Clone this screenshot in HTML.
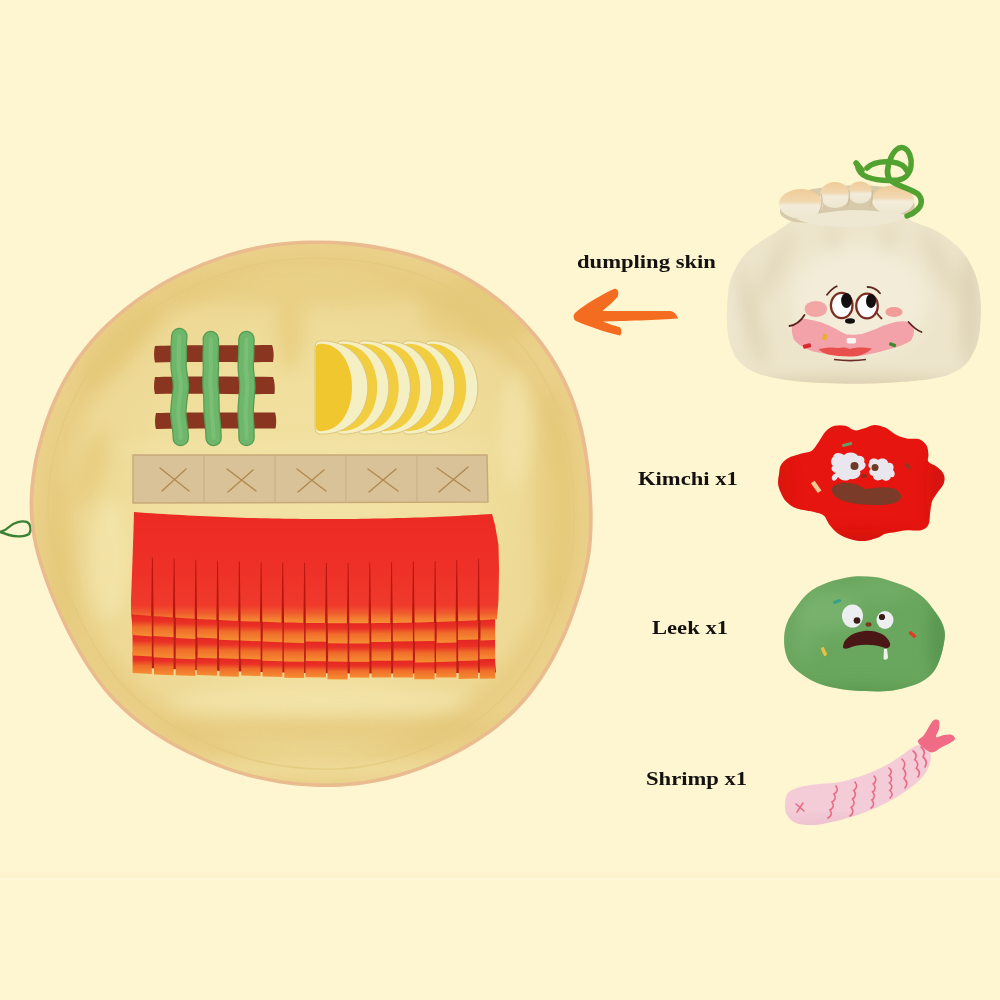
<!DOCTYPE html>
<html><head><meta charset="utf-8">
<style>
html,body{margin:0;padding:0;background:#FEF5D1;}
body{width:1000px;height:1000px;overflow:hidden;position:relative;font-family:"Liberation Serif",serif;}
svg{position:absolute;left:0;top:0;}
.lbl{position:absolute;transform-origin:0 0;transform:scaleX(1.19);font-family:"Liberation Serif",serif;font-weight:bold;color:#141210;white-space:nowrap;line-height:1;}
</style></head>
<body>
<svg width="1000" height="1000" viewBox="0 0 1000 1000">
<defs>
  <radialGradient id="matg" cx="0.5" cy="0.5" r="0.5">
    <stop offset="0" stop-color="#F2E2A2"/>
    <stop offset="0.6" stop-color="#F0DE9C"/>
    <stop offset="0.85" stop-color="#EDD894"/>
    <stop offset="0.93" stop-color="#E8CE84"/>
    <stop offset="1" stop-color="#EAD088"/>
  </radialGradient>
  <clipPath id="matclip"><path d="M301.5 244.3 C316.5 243.6 332.1 243.9 347.8 245.4 C363.5 246.8 380.2 249.3 395.6 252.9 C411.0 256.6 426.5 261.6 440.1 267.3 C453.8 273.0 466.1 279.9 477.5 287.2 C489.0 294.5 499.2 302.7 508.6 311.0 C518.0 319.4 526.5 328.1 534.1 337.3 C541.6 346.5 548.1 356.0 554.0 366.0 C559.8 375.9 564.8 386.3 569.1 397.0 C573.3 407.7 576.6 418.8 579.4 430.4 C582.2 442.1 584.2 454.3 585.8 467.0 C587.4 479.8 588.5 494.1 588.8 506.8 C589.2 519.5 588.9 532.4 588.0 543.1 C587.1 553.9 585.5 561.6 583.4 571.2 C581.2 580.8 578.5 589.9 574.9 600.6 C571.4 611.2 567.1 623.6 562.0 634.9 C556.9 646.2 551.1 657.8 544.6 668.5 C538.0 679.1 530.8 689.4 522.6 698.8 C514.4 708.2 505.1 716.9 495.4 724.7 C485.7 732.4 474.9 739.4 464.4 745.5 C453.9 751.6 442.9 756.8 432.3 761.3 C421.8 765.8 411.4 769.5 401.0 772.6 C390.7 775.6 380.4 778.0 370.2 779.8 C360.0 781.5 349.9 782.6 339.9 783.1 C329.8 783.7 320.0 783.5 310.0 783.0 C300.1 782.5 290.1 781.4 280.2 779.9 C270.2 778.3 260.3 776.4 250.3 773.8 C240.4 771.2 230.4 768.0 220.5 764.2 C210.5 760.4 200.5 756.0 190.6 751.2 C180.8 746.3 170.6 740.8 161.3 734.9 C151.9 729.0 142.6 722.5 134.4 715.7 C126.2 709.0 118.8 701.8 112.0 694.3 C105.2 686.8 99.4 679.1 93.6 670.7 C87.8 662.3 82.5 653.4 77.2 643.8 C71.9 634.2 66.6 623.7 61.8 613.0 C56.9 602.3 52.1 590.6 48.1 579.4 C44.1 568.3 40.5 556.8 38.0 546.1 C35.6 535.3 34.2 525.1 33.5 515.0 C32.9 504.8 33.3 495.7 34.3 485.1 C35.3 474.6 36.8 463.9 39.8 451.6 C42.8 439.3 46.8 424.8 52.3 411.3 C57.8 397.7 64.7 383.0 72.7 370.2 C80.8 357.4 90.3 345.4 100.6 334.4 C110.9 323.5 122.6 313.6 134.7 304.6 C146.7 295.6 159.6 287.5 173.0 280.3 C186.3 273.2 200.8 266.8 215.0 261.7 C229.2 256.5 243.6 252.4 258.0 249.5 C272.4 246.6 286.6 245.0 301.5 244.3 Z"/></clipPath>
  <clipPath id="bagclip"><path d="M808.0 210.0 C818.5 207.8 839.7 207.7 855.0 208.0 C870.3 208.3 890.5 209.8 900.0 212.0 C909.5 214.2 907.0 218.3 912.0 221.0 C917.0 223.7 924.3 225.3 930.0 228.0 C935.7 230.7 941.0 233.5 946.0 237.0 C951.0 240.5 956.0 244.7 960.0 249.0 C964.0 253.3 967.2 257.8 970.0 263.0 C972.8 268.2 975.2 273.8 977.0 280.0 C978.8 286.2 979.9 293.0 980.5 300.0 C981.1 307.0 981.1 314.7 980.5 322.0 C979.9 329.3 979.4 337.0 977.0 344.0 C974.6 351.0 970.5 359.0 966.0 364.0 C961.5 369.0 956.0 371.5 950.0 374.0 C944.0 376.5 938.3 377.7 930.0 379.0 C921.7 380.3 910.0 381.2 900.0 382.0 C890.0 382.8 880.0 383.2 870.0 383.5 C860.0 383.8 850.8 383.8 840.0 383.5 C829.2 383.2 815.8 382.9 805.0 382.0 C794.2 381.1 783.8 379.8 775.0 378.0 C766.2 376.2 758.3 374.2 752.0 371.0 C745.7 367.8 740.8 363.8 737.0 359.0 C733.2 354.2 731.2 348.2 729.5 342.0 C727.8 335.8 727.3 329.0 727.0 322.0 C726.7 315.0 727.0 306.7 727.5 300.0 C728.0 293.3 728.4 287.7 730.0 282.0 C731.6 276.3 734.3 270.8 737.0 266.0 C739.7 261.2 742.2 257.0 746.0 253.0 C749.8 249.0 755.0 245.5 760.0 242.0 C765.0 238.5 770.7 235.5 776.0 232.0 C781.3 228.5 786.7 224.7 792.0 221.0 C797.3 217.3 797.5 212.2 808.0 210.0 Z"/></clipPath>
  <clipPath id="kimclip"><path d="M779.0 474.4 C779.5 471.4 779.3 468.1 780.8 465.4 C782.3 462.7 784.7 460.1 788.0 458.2 C791.3 456.2 796.7 454.9 800.6 453.7 C804.5 452.5 808.4 452.9 811.4 451.0 C814.4 449.1 816.2 445.3 818.6 442.0 C821.0 438.7 823.1 433.9 825.8 431.2 C828.5 428.5 831.5 426.7 834.8 425.8 C838.1 424.9 842.3 425.1 845.6 425.8 C848.9 426.6 851.6 429.9 854.6 430.3 C857.6 430.8 860.3 429.4 863.6 428.5 C866.9 427.6 870.8 425.0 874.4 424.9 C878.0 424.8 881.6 426.0 885.2 427.6 C888.8 429.2 892.4 433.0 896.0 434.8 C899.6 436.6 902.9 437.6 906.8 438.4 C910.7 439.1 916.1 438.1 919.4 439.3 C922.7 440.5 925.1 443.1 926.6 445.6 C928.1 448.2 928.1 451.9 928.4 454.6 C928.7 457.3 926.9 459.7 928.4 461.8 C929.9 463.9 934.8 465.1 937.4 467.2 C940.0 469.3 942.7 471.7 943.7 474.4 C944.8 477.1 944.8 480.4 943.7 483.4 C942.7 486.4 939.4 489.4 937.4 492.4 C935.4 495.4 933.2 498.1 932.0 501.4 C930.8 504.7 930.8 508.3 930.2 512.2 C929.6 516.1 929.9 521.8 928.4 524.8 C926.9 527.8 924.8 529.3 921.2 530.2 C917.6 531.1 911.0 529.9 906.8 530.2 C902.6 530.5 899.6 531.4 896.0 532.0 C892.4 532.6 888.2 532.9 885.2 533.8 C882.2 534.7 881.6 536.2 878.0 537.4 C874.4 538.6 868.1 540.7 863.6 541.0 C859.1 541.3 855.2 540.4 851.0 539.2 C846.8 538.0 842.0 536.2 838.4 533.8 C834.8 531.4 831.8 527.8 829.4 524.8 C827.0 521.8 826.4 517.9 824.0 515.8 C821.6 513.7 819.5 513.4 815.0 512.2 C810.5 511.0 801.8 510.4 797.0 508.6 C792.2 506.8 788.9 504.1 786.2 501.4 C783.5 498.7 782.1 495.4 780.8 492.4 C779.4 489.4 778.4 486.4 778.1 483.4 C777.8 480.4 778.5 477.4 779.0 474.4 Z"/></clipPath>
  <clipPath id="leekclip"><path d="M784.2 636.0 C784.6 631.2 785.4 627.1 787.1 622.7 C788.8 618.3 791.2 614.3 794.7 609.4 C798.2 604.5 802.6 597.7 808.0 593.2 C813.4 588.8 819.7 585.6 827.0 582.8 C834.3 580.0 843.8 577.7 851.7 576.7 C859.6 575.8 867.5 576.2 874.5 577.1 C881.5 578.0 887.5 580.0 893.5 581.9 C899.5 583.8 905.5 585.8 910.6 588.5 C915.7 591.2 920.1 594.5 923.9 598.0 C927.7 601.5 930.5 605.6 933.4 609.4 C936.2 613.2 939.1 617.0 941.0 620.8 C942.9 624.6 944.3 628.4 944.8 632.2 C945.3 636.0 944.6 639.2 943.9 643.6 C943.1 648.0 941.8 654.0 940.0 658.8 C938.3 663.5 936.4 668.3 933.4 672.1 C930.4 675.9 926.4 679.1 922.0 681.6 C917.6 684.1 912.5 685.7 906.8 687.3 C901.1 688.9 894.8 690.5 887.8 691.1 C880.8 691.7 872.6 691.4 865.0 691.1 C857.4 690.8 849.5 690.3 842.2 689.2 C834.9 688.1 827.6 686.7 821.3 684.5 C815.0 682.2 809.3 679.2 804.2 675.9 C799.1 672.6 794.1 668.6 790.9 664.5 C787.7 660.4 786.3 656.0 785.2 651.2 C784.1 646.5 783.9 640.8 784.2 636.0 Z"/></clipPath>
  <clipPath id="shrimpclip"><path d="M785.0 805.0 C785.2 801.3 785.5 796.0 788.0 793.0 C790.5 790.0 794.7 788.5 800.0 787.0 C805.3 785.5 813.3 784.8 820.0 784.0 C826.7 783.2 833.7 783.2 840.0 782.0 C846.3 780.8 852.3 778.8 858.0 777.0 C863.7 775.2 868.7 773.3 874.0 771.0 C879.3 768.7 885.3 765.7 890.0 763.0 C894.7 760.3 898.3 757.5 902.0 755.0 C905.7 752.5 908.7 749.8 912.0 748.0 C915.3 746.2 919.0 743.5 922.0 744.0 C925.0 744.5 928.7 747.8 930.0 751.0 C931.3 754.2 931.0 759.0 930.0 763.0 C929.0 767.0 926.7 771.3 924.0 775.0 C921.3 778.7 918.0 781.7 914.0 785.0 C910.0 788.3 905.3 791.7 900.0 795.0 C894.7 798.3 888.7 801.8 882.0 805.0 C875.3 808.2 867.7 811.3 860.0 814.0 C852.3 816.7 843.7 819.2 836.0 821.0 C828.3 822.8 820.7 824.7 814.0 825.0 C807.3 825.3 800.5 824.7 796.0 823.0 C791.5 821.3 788.8 818.0 787.0 815.0 C785.2 812.0 784.8 808.7 785.0 805.0 Z"/></clipPath>
  <linearGradient id="rufg" x1="0" y1="0" x2="0" y2="1">
    <stop offset="0" stop-color="#EFCB98"/>
    <stop offset="0.42" stop-color="#F1D8B0"/>
    <stop offset="0.55" stop-color="#F3ECDA"/>
    <stop offset="1" stop-color="#EDE5CE"/>
  </linearGradient>
  <filter id="blur8" x="-50%" y="-50%" width="200%" height="200%"><feGaussianBlur stdDeviation="8"/></filter>
  <filter id="blur2" x="-20%" y="-20%" width="140%" height="140%"><feGaussianBlur stdDeviation="1.2"/></filter>
  <linearGradient id="redg" x1="0" y1="0" x2="0" y2="1">
    <stop offset="0" stop-color="#EC2A24"/>
    <stop offset="0.5" stop-color="#EE3028"/>
    <stop offset="0.84" stop-color="#EF3A2C"/>
    <stop offset="0.91" stop-color="#F05C2E"/>
    <stop offset="0.96" stop-color="#F37E30"/>
    <stop offset="1" stop-color="#F59034"/>
  </linearGradient>
  <linearGradient id="tabg" x1="0" y1="0" x2="0" y2="1">
    <stop offset="0" stop-color="#E42020"/>
    <stop offset="0.38" stop-color="#EA3226"/>
    <stop offset="0.62" stop-color="#F06C2A"/>
    <stop offset="1" stop-color="#F58E32"/>
  </linearGradient>
</defs>
<rect width="1000" height="1000" fill="#FEF5D1"/>
<rect y="872" width="1000" height="6" fill="#FDF3CE"/>
<rect y="878.5" width="1000" height="1.5" fill="#FFF8DA"/>

<!-- green loop on left -->
<path d="M0 532 C4 531 7 529 9 527 C14 522 22 520.5 27 522 C31 524 31.5 531 29 534 C25 537 15 537 9 535 C6 534 3 533 0 532" fill="none" stroke="#3A8034" stroke-width="2.4" stroke-linecap="round"/>

<!-- mat -->
<path d="M301.4 240.8 C316.6 240.1 332.4 240.4 348.3 241.8 C364.2 243.3 381.1 245.8 396.7 249.5 C412.3 253.2 428.0 258.2 441.8 264.0 C455.7 269.8 468.2 276.8 479.7 284.2 C491.3 291.6 501.6 299.9 511.2 308.4 C520.7 316.8 529.3 325.7 537.0 335.0 C544.7 344.3 551.2 353.9 557.2 364.0 C563.1 374.1 568.2 384.6 572.5 395.5 C576.8 406.4 580.1 417.5 583.0 429.3 C585.8 441.2 587.8 453.5 589.4 466.4 C591.0 479.3 592.1 493.9 592.5 506.8 C592.9 519.6 592.6 532.7 591.7 543.5 C590.8 554.4 589.1 562.3 586.9 572.0 C584.7 581.7 582.0 591.0 578.4 601.7 C574.8 612.5 570.5 625.0 565.3 636.5 C560.2 647.9 554.3 659.7 547.6 670.5 C541.0 681.3 533.7 691.8 525.4 701.2 C517.1 710.7 507.7 719.6 497.8 727.5 C488.0 735.3 477.0 742.3 466.4 748.5 C455.7 754.7 444.6 760.0 433.9 764.5 C423.2 769.1 412.7 772.9 402.2 776.0 C391.7 779.1 381.3 781.5 371.0 783.3 C360.6 785.1 350.4 786.1 340.2 786.7 C330.1 787.2 320.1 787.1 310.0 786.5 C299.9 786.0 289.8 784.9 279.8 783.4 C269.7 781.8 259.6 779.9 249.5 777.2 C239.4 774.6 229.4 771.3 219.3 767.5 C209.2 763.7 199.0 759.2 189.0 754.3 C179.0 749.3 168.8 743.8 159.3 737.8 C149.8 731.8 140.4 725.2 132.1 718.4 C123.8 711.5 116.3 704.3 109.4 696.7 C102.5 689.1 96.6 681.3 90.8 672.8 C84.9 664.2 79.5 655.3 74.1 645.6 C68.7 635.8 63.4 625.2 58.5 614.3 C53.6 603.4 48.6 591.6 44.6 580.3 C40.6 569.0 36.9 557.4 34.4 546.5 C32.0 535.6 30.5 525.3 29.9 515.0 C29.3 504.7 29.6 495.5 30.6 484.8 C31.7 474.1 33.1 463.2 36.2 450.8 C39.2 438.3 43.4 423.7 48.9 409.9 C54.5 396.2 61.4 381.3 69.6 368.4 C77.7 355.4 87.3 343.2 97.8 332.1 C108.3 321.0 120.1 311.0 132.3 301.8 C144.6 292.7 157.6 284.5 171.1 277.3 C184.7 270.0 199.4 263.6 213.7 258.4 C228.1 253.2 242.7 249.0 257.3 246.1 C271.9 243.1 286.3 241.5 301.4 240.8 Z" fill="#E9BB8E"/>
<path d="M301.5 244.3 C316.5 243.6 332.1 243.9 347.8 245.4 C363.5 246.8 380.2 249.3 395.6 252.9 C411.0 256.6 426.5 261.6 440.1 267.3 C453.8 273.0 466.1 279.9 477.5 287.2 C489.0 294.5 499.2 302.7 508.6 311.0 C518.0 319.4 526.5 328.1 534.1 337.3 C541.6 346.5 548.1 356.0 554.0 366.0 C559.8 375.9 564.8 386.3 569.1 397.0 C573.3 407.7 576.6 418.8 579.4 430.4 C582.2 442.1 584.2 454.3 585.8 467.0 C587.4 479.8 588.5 494.1 588.8 506.8 C589.2 519.5 588.9 532.4 588.0 543.1 C587.1 553.9 585.5 561.6 583.4 571.2 C581.2 580.8 578.5 589.9 574.9 600.6 C571.4 611.2 567.1 623.6 562.0 634.9 C556.9 646.2 551.1 657.8 544.6 668.5 C538.0 679.1 530.8 689.4 522.6 698.8 C514.4 708.2 505.1 716.9 495.4 724.7 C485.7 732.4 474.9 739.4 464.4 745.5 C453.9 751.6 442.9 756.8 432.3 761.3 C421.8 765.8 411.4 769.5 401.0 772.6 C390.7 775.6 380.4 778.0 370.2 779.8 C360.0 781.5 349.9 782.6 339.9 783.1 C329.8 783.7 320.0 783.5 310.0 783.0 C300.1 782.5 290.1 781.4 280.2 779.9 C270.2 778.3 260.3 776.4 250.3 773.8 C240.4 771.2 230.4 768.0 220.5 764.2 C210.5 760.4 200.5 756.0 190.6 751.2 C180.8 746.3 170.6 740.8 161.3 734.9 C151.9 729.0 142.6 722.5 134.4 715.7 C126.2 709.0 118.8 701.8 112.0 694.3 C105.2 686.8 99.4 679.1 93.6 670.7 C87.8 662.3 82.5 653.4 77.2 643.8 C71.9 634.2 66.6 623.7 61.8 613.0 C56.9 602.3 52.1 590.6 48.1 579.4 C44.1 568.3 40.5 556.8 38.0 546.1 C35.6 535.3 34.2 525.1 33.5 515.0 C32.9 504.8 33.3 495.7 34.3 485.1 C35.3 474.6 36.8 463.9 39.8 451.6 C42.8 439.3 46.8 424.8 52.3 411.3 C57.8 397.7 64.7 383.0 72.7 370.2 C80.8 357.4 90.3 345.4 100.6 334.4 C110.9 323.5 122.6 313.6 134.7 304.6 C146.7 295.6 159.6 287.5 173.0 280.3 C186.3 273.2 200.8 266.8 215.0 261.7 C229.2 256.5 243.6 252.4 258.0 249.5 C272.4 246.6 286.6 245.0 301.5 244.3 Z" fill="url(#matg)"/>
<g clip-path="url(#matclip)"><g filter="url(#blur8)" opacity="0.5">
  <ellipse cx="480" cy="310" rx="60" ry="35" fill="#E2C470"/>
  <ellipse cx="300" cy="290" rx="150" ry="16" fill="#E4C878"/>
  <ellipse cx="330" cy="730" rx="170" ry="12" fill="#E0C06E"/>
  <ellipse cx="553" cy="500" rx="18" ry="110" fill="#E2C470"/>
  <ellipse cx="62" cy="560" rx="12" ry="80" fill="#E2C470"/>
  <ellipse cx="120" cy="345" rx="18" ry="55" fill="#E2C470" transform="rotate(40 120 345)"/>
  <ellipse cx="290" cy="330" rx="14" ry="40" fill="#E2C470"/>
  <ellipse cx="90" cy="470" rx="14" ry="40" fill="#E2C470" transform="rotate(20 90 470)"/>
</g></g>
<g clip-path="url(#matclip)"><g filter="url(#blur8)" opacity="0.6">
  <ellipse cx="110" cy="560" rx="20" ry="60" fill="#F5E8B0"/>
  <ellipse cx="320" cy="700" rx="150" ry="14" fill="#F5E8B0"/>
  <ellipse cx="320" cy="768" rx="160" ry="8" fill="#F4E6AC"/>
  <ellipse cx="515" cy="430" rx="16" ry="60" fill="#F4E6AC"/>
  <ellipse cx="300" cy="448" rx="200" ry="5" fill="#F5E8B0"/>
  <ellipse cx="310" cy="507" rx="190" ry="4" fill="#F5E8B0"/>
</g></g>
<path d="M302.0 258.5 C316.2 257.8 331.0 258.1 345.9 259.5 C360.7 260.8 376.5 263.2 391.1 266.6 C405.7 270.1 420.4 274.8 433.3 280.2 C446.3 285.6 458.0 292.1 468.8 299.1 C479.6 306.0 489.3 313.8 498.2 321.7 C507.1 329.6 515.1 337.9 522.3 346.6 C529.5 355.2 535.6 364.3 541.2 373.7 C546.7 383.1 551.5 392.9 555.5 403.1 C559.5 413.3 562.6 423.7 565.3 434.8 C567.9 445.8 569.8 457.4 571.3 469.5 C572.8 481.5 573.8 495.1 574.2 507.2 C574.5 519.2 574.3 531.4 573.4 541.6 C572.6 551.7 571.1 559.1 569.0 568.1 C566.9 577.2 564.4 585.9 561.0 595.9 C557.7 606.0 553.6 617.7 548.8 628.5 C544.0 639.2 538.5 650.2 532.2 660.3 C526.0 670.4 519.2 680.1 511.4 689.0 C503.7 697.9 494.9 706.1 485.7 713.5 C476.5 720.9 466.2 727.4 456.3 733.2 C446.3 739.0 435.9 743.9 425.9 748.2 C415.9 752.5 406.1 756.0 396.3 758.9 C386.5 761.8 376.7 764.0 367.1 765.7 C357.4 767.4 347.8 768.4 338.3 768.9 C328.8 769.4 319.5 769.3 310.1 768.8 C300.6 768.3 291.2 767.3 281.8 765.8 C272.4 764.4 262.9 762.5 253.5 760.0 C244.1 757.6 234.7 754.5 225.2 751.0 C215.8 747.4 206.3 743.2 197.0 738.6 C187.6 734.0 178.0 728.8 169.2 723.2 C160.3 717.6 151.5 711.4 143.7 705.0 C135.9 698.6 128.9 691.9 122.5 684.8 C116.1 677.7 110.6 670.4 105.1 662.4 C99.6 654.4 94.5 646.0 89.5 636.9 C84.5 627.8 79.5 617.9 74.9 607.7 C70.3 597.5 65.7 586.5 61.9 575.9 C58.2 565.3 54.7 554.5 52.4 544.3 C50.1 534.2 48.8 524.5 48.2 514.9 C47.6 505.3 47.9 496.6 48.9 486.6 C49.9 476.6 51.2 466.5 54.1 454.8 C56.9 443.1 60.8 429.5 66.0 416.6 C71.2 403.8 77.7 389.9 85.3 377.8 C92.9 365.6 101.9 354.2 111.7 343.8 C121.4 333.5 132.5 324.1 143.9 315.6 C155.4 307.0 167.5 299.4 180.2 292.6 C192.9 285.8 206.6 279.8 220.1 274.9 C233.5 270.0 247.1 266.1 260.8 263.4 C274.5 260.7 287.9 259.1 302.0 258.5 Z" fill="none" stroke="#E2C97E" stroke-width="1.5" opacity="0.8"/>

<!-- brown bars -->
<g fill="#8A3520">
  <path d="M155 346 C180 344.5 230 345.5 272 345 C274 350 274 357 273 362 C230 362.5 190 361.5 155 362.5 C153.5 357 154 350 155 346 Z"/>
  <path d="M155 377 C180 376 230 376.5 273 377 C275 382 275 389 274.5 394 C230 394.5 190 393.5 155 394 C153.5 389 154 382 155 377 Z"/>
  <path d="M156 413 C185 412 230 412.5 275 412.5 C276.5 417 276.5 424 275.5 428.5 C230 428.5 190 428 156 429 C154.5 424 155 417 156 413 Z"/>
</g>
<!-- green sticks -->
<g fill="none" stroke-linecap="round">
  <g stroke="#559C52" stroke-width="16.5">
    <path d="M179.3 336 C178 350 179.5 356 178.6 362 C177.8 372 182 380 180.7 390 C179.5 400 177.5 410 178.6 418 C179.5 426 181 432 180.7 438"/>
    <path d="M210.8 339 C211.5 348 210 355 210.8 362 C211.5 372 209.5 380 210.8 390 C212 400 211 410 212.2 418 C213 426 213.5 432 213.6 438"/>
    <path d="M246.5 339 C246 348 246.5 355 245.8 362 C245 372 248 380 247.2 390 C246.5 400 245 410 245.8 418 C246.5 426 246.5 432 246.5 438"/>
  </g>
  <g stroke="#6DB66A" stroke-width="14">
    <path d="M179.3 336 C178 350 179.5 356 178.6 362 C177.8 372 182 380 180.7 390 C179.5 400 177.5 410 178.6 418 C179.5 426 181 432 180.7 438"/>
    <path d="M210.8 339 C211.5 348 210 355 210.8 362 C211.5 372 209.5 380 210.8 390 C212 400 211 410 212.2 418 C213 426 213.5 432 213.6 438"/>
    <path d="M246.5 339 C246 348 246.5 355 245.8 362 C245 372 248 380 247.2 390 C246.5 400 245 410 245.8 418 C246.5 426 246.5 432 246.5 438"/>
  </g>
  <g stroke="#82C67E" stroke-width="4" opacity="0.6">
    <path d="M179.3 336 C178 350 179.5 356 178.6 362 C177.8 372 182 380 180.7 390 C179.5 400 177.5 410 178.6 418 C179.5 426 181 432 180.7 438"/>
    <path d="M210.8 339 C211.5 348 210 355 210.8 362 C211.5 372 209.5 380 210.8 390 C212 400 211 410 212.2 418 C213 426 213.5 432 213.6 438"/>
    <path d="M246.5 339 C246 348 246.5 355 245.8 362 C245 372 248 380 247.2 390 C246.5 400 245 410 245.8 418 C246.5 426 246.5 432 246.5 438"/>
  </g>
</g>

<!-- egg slices (draw right to left) -->
<g id="eggs"><path d="M425 347.5 Q425 340.5 432 340.8 C493.125 341.5 493.125 433.5 432 434.2 Q425 434.5 425 427.5 Z" fill="#F5EFC4" stroke="#DCC67E" stroke-width="1"/>
<path d="M425.5 349.5 Q425.5 343.5 431 343.8 C478.125 344.5 478.125 430.5 431 431.2 Q425.5 431.5 425.5 425.5 Z" fill="#F2CD40"/>
<path d="M402 347.5 Q402 340.5 409 340.8 C470.125 341.5 470.125 433.5 409 434.2 Q402 434.5 402 427.5 Z" fill="#F5EFC4" stroke="#DCC67E" stroke-width="1"/>
<path d="M402.5 349.5 Q402.5 343.5 408 343.8 C455.125 344.5 455.125 430.5 408 431.2 Q402.5 431.5 402.5 425.5 Z" fill="#F2CD40"/>
<path d="M379 347.5 Q379 340.5 386 340.8 C447.125 341.5 447.125 433.5 386 434.2 Q379 434.5 379 427.5 Z" fill="#F5EFC4" stroke="#DCC67E" stroke-width="1"/>
<path d="M379.5 349.5 Q379.5 343.5 385 343.8 C432.125 344.5 432.125 430.5 385 431.2 Q379.5 431.5 379.5 425.5 Z" fill="#F2CD40"/>
<path d="M357.5 347.5 Q357.5 340.5 364.5 340.8 C425.625 341.5 425.625 433.5 364.5 434.2 Q357.5 434.5 357.5 427.5 Z" fill="#F5EFC4" stroke="#DCC67E" stroke-width="1"/>
<path d="M358.0 349.5 Q358.0 343.5 363.5 343.8 C410.625 344.5 410.625 430.5 363.5 431.2 Q358.0 431.5 358.0 425.5 Z" fill="#F2CD40"/>
<path d="M336 347.5 Q336 340.5 343 340.8 C404.125 341.5 404.125 433.5 343 434.2 Q336 434.5 336 427.5 Z" fill="#F5EFC4" stroke="#DCC67E" stroke-width="1"/>
<path d="M336.5 349.5 Q336.5 343.5 342 343.8 C389.125 344.5 389.125 430.5 342 431.2 Q336.5 431.5 336.5 425.5 Z" fill="#F2CD40"/>
<path d="M315 347.5 Q315 340.5 322 340.8 C383.125 341.5 383.125 433.5 322 434.2 Q315 434.5 315 427.5 Z" fill="#F5EFC4" stroke="#DCC67E" stroke-width="1"/>
<path d="M315.5 349.5 Q315.5 343.5 321 343.8 C362.5 344.5 362.5 430.5 321 431.2 Q315.5 431.5 315.5 425.5 Z" fill="#F1C730"/></g>

<!-- tan strip -->
<path d="M133 455 L487 455 L488 502 L133 503 Z" fill="#D9C298" stroke="#C8AA7A" stroke-width="1.5"/>
<g stroke="#CBB086" stroke-width="1.2">
  <line x1="204" y1="456" x2="204" y2="502"/>
  <line x1="275" y1="456" x2="275" y2="502"/>
  <line x1="346" y1="456" x2="346" y2="502"/>
  <line x1="417" y1="456" x2="417" y2="502"/>
</g>
<g stroke="#B08A50" stroke-width="1.4" fill="none" stroke-linecap="round">
  <path d="M160 468 L189 491 M186 469 L162 491"/>
  <path d="M227 469 L256 491 M253 470 L228 492"/>
  <path d="M297 469 L326 491 M324 470 L298 492"/>
  <path d="M368 469 L398 491 M396 469 L369 492"/>
  <path d="M437 468 L470 491 M468 467 L439 492"/>
</g>

<!-- red fringe layers -->
<g id="fringe"><path d="M131.0 610.8 L139.0 611.5 L147.0 612.1 L155.0 612.7 L163.0 613.2 L171.0 613.8 L179.0 614.3 L187.0 614.8 L195.0 615.3 L203.0 615.7 L211.0 616.1 L219.0 616.5 L227.0 616.9 L235.0 617.3 L243.0 617.6 L251.0 617.9 L259.0 618.2 L267.0 618.5 L275.0 618.7 L283.0 618.9 L291.0 619.1 L299.0 619.3 L307.0 619.4 L315.0 619.5 L323.0 619.6 L331.0 619.7 L339.0 619.7 L347.0 619.7 L355.0 619.7 L363.0 619.7 L371.0 619.7 L379.0 619.6 L387.0 619.5 L395.0 619.4 L403.0 619.2 L411.0 619.1 L419.0 618.9 L427.0 618.7 L435.0 618.4 L443.0 618.2 L451.0 617.9 L459.0 617.6 L467.0 617.2 L475.0 616.9 L483.0 616.5 L491.0 616.1 L496.0 672.4 L488.0 672.6 L480.0 672.7 L472.0 672.9 L464.0 673.0 L456.0 673.1 L448.0 673.2 L440.0 673.3 L432.0 673.3 L424.0 673.4 L416.0 673.4 L408.0 673.5 L400.0 673.5 L392.0 673.5 L384.0 673.5 L376.0 673.5 L368.0 673.5 L360.0 673.4 L352.0 673.4 L344.0 673.3 L336.0 673.3 L328.0 673.2 L320.0 673.1 L312.0 673.0 L304.0 672.9 L296.0 672.7 L288.0 672.6 L280.0 672.4 L272.0 672.3 L264.0 672.1 L256.0 671.9 L248.0 671.7 L240.0 671.5 L232.0 671.3 L224.0 671.0 L216.0 670.8 L208.0 670.5 L200.0 670.2 L192.0 669.9 L184.0 669.7 L176.0 669.3 L168.0 669.0 L160.0 668.7 L152.0 668.3 L144.0 668.0 L136.0 667.6 Z" fill="#B81E16"/>
<path d="M132.6 652.0 L151.8 653.0 L151.8 673.9 L132.6 673.0 Z" fill="url(#tabg)"/>
<path d="M154.0 653.2 L173.6 654.2 L173.6 675.3 L154.0 674.5 Z" fill="url(#tabg)"/>
<path d="M175.7 654.3 L195.3 655.1 L195.3 676.1 L175.7 675.3 Z" fill="url(#tabg)"/>
<path d="M196.8 655.2 L217.1 656.0 L217.1 675.7 L196.8 675.0 Z" fill="url(#tabg)"/>
<path d="M219.4 656.1 L238.8 656.8 L238.8 676.8 L219.4 676.2 Z" fill="url(#tabg)"/>
<path d="M241.2 656.9 L260.6 657.4 L260.6 676.1 L241.2 675.6 Z" fill="url(#tabg)"/>
<path d="M262.5 657.5 L282.4 657.9 L282.4 676.9 L262.5 676.4 Z" fill="url(#tabg)"/>
<path d="M284.3 658.0 L304.1 658.4 L304.1 678.0 L284.3 677.7 Z" fill="url(#tabg)"/>
<path d="M305.5 658.4 L325.9 658.6 L325.9 677.5 L305.5 677.2 Z" fill="url(#tabg)"/>
<path d="M327.5 658.7 L347.6 658.8 L347.6 679.4 L327.5 679.2 Z" fill="url(#tabg)"/>
<path d="M349.8 658.8 L369.4 658.9 L369.4 677.7 L349.8 677.6 Z" fill="url(#tabg)"/>
<path d="M371.5 658.9 L391.1 658.8 L391.1 677.6 L371.5 677.6 Z" fill="url(#tabg)"/>
<path d="M393.1 658.8 L412.9 658.6 L412.9 677.6 L393.1 677.6 Z" fill="url(#tabg)"/>
<path d="M414.3 658.6 L434.6 658.3 L434.6 679.2 L414.3 679.3 Z" fill="url(#tabg)"/>
<path d="M436.2 658.3 L456.4 657.9 L456.4 677.4 L436.2 677.6 Z" fill="url(#tabg)"/>
<path d="M458.7 657.9 L478.1 657.4 L478.1 678.6 L458.7 678.9 Z" fill="url(#tabg)"/>
<path d="M479.8 657.4 L495.1 656.9 L495.1 678.6 L479.8 678.8 Z" fill="url(#tabg)"/>
<path d="M132.5 631.0 L151.8 632.3 L151.8 656.5 L132.5 655.4 Z" fill="url(#tabg)"/>
<path d="M153.5 632.4 L173.6 633.7 L173.6 658.2 L153.5 657.2 Z" fill="url(#tabg)"/>
<path d="M175.7 633.8 L195.3 634.9 L195.3 659.3 L175.7 658.4 Z" fill="url(#tabg)"/>
<path d="M197.6 635.0 L217.1 636.0 L217.1 658.5 L197.6 657.8 Z" fill="url(#tabg)"/>
<path d="M218.9 636.0 L238.8 636.9 L238.8 659.0 L218.9 658.3 Z" fill="url(#tabg)"/>
<path d="M240.4 637.0 L260.6 637.7 L260.6 659.4 L240.4 658.8 Z" fill="url(#tabg)"/>
<path d="M262.3 637.7 L282.4 638.3 L282.4 661.2 L262.3 660.7 Z" fill="url(#tabg)"/>
<path d="M283.8 638.4 L304.1 638.8 L304.1 661.8 L283.8 661.4 Z" fill="url(#tabg)"/>
<path d="M305.8 638.9 L325.9 639.2 L325.9 661.2 L305.8 660.9 Z" fill="url(#tabg)"/>
<path d="M328.1 639.2 L347.6 639.4 L347.6 661.8 L328.1 661.6 Z" fill="url(#tabg)"/>
<path d="M349.3 639.4 L369.4 639.4 L369.4 661.8 L349.3 661.8 Z" fill="url(#tabg)"/>
<path d="M371.5 639.4 L391.1 639.3 L391.1 660.8 L371.5 660.8 Z" fill="url(#tabg)"/>
<path d="M393.5 639.3 L412.9 639.1 L412.9 660.5 L393.5 660.7 Z" fill="url(#tabg)"/>
<path d="M415.0 639.1 L434.6 638.7 L434.6 662.2 L415.0 662.4 Z" fill="url(#tabg)"/>
<path d="M436.0 638.7 L456.4 638.2 L456.4 661.6 L436.0 662.0 Z" fill="url(#tabg)"/>
<path d="M458.1 638.2 L478.1 637.5 L478.1 660.6 L458.1 661.1 Z" fill="url(#tabg)"/>
<path d="M479.5 637.5 L495.1 636.9 L495.1 658.8 L479.5 659.3 Z" fill="url(#tabg)"/>
<path d="M132.2 610.9 L151.8 612.4 L151.8 636.4 L132.2 635.0 Z" fill="url(#tabg)"/>
<path d="M153.4 612.6 L173.6 614.0 L173.6 637.3 L153.4 636.0 Z" fill="url(#tabg)"/>
<path d="M175.9 614.1 L195.3 615.3 L195.3 638.9 L175.9 637.9 Z" fill="url(#tabg)"/>
<path d="M197.1 615.4 L217.1 616.5 L217.1 638.6 L197.1 637.6 Z" fill="url(#tabg)"/>
<path d="M219.0 616.5 L238.8 617.4 L238.8 640.6 L219.0 639.7 Z" fill="url(#tabg)"/>
<path d="M240.4 617.5 L260.6 618.2 L260.6 641.3 L240.4 640.6 Z" fill="url(#tabg)"/>
<path d="M262.8 618.3 L282.4 618.9 L282.4 642.2 L262.8 641.6 Z" fill="url(#tabg)"/>
<path d="M283.8 618.9 L304.1 619.3 L304.1 642.9 L283.8 642.4 Z" fill="url(#tabg)"/>
<path d="M305.6 619.4 L325.9 619.6 L325.9 641.8 L305.6 641.5 Z" fill="url(#tabg)"/>
<path d="M327.9 619.7 L347.6 619.7 L347.6 643.4 L327.9 643.2 Z" fill="url(#tabg)"/>
<path d="M349.3 619.7 L369.4 619.7 L369.4 643.5 L349.3 643.4 Z" fill="url(#tabg)"/>
<path d="M371.3 619.7 L391.1 619.4 L391.1 641.9 L371.3 642.0 Z" fill="url(#tabg)"/>
<path d="M392.8 619.4 L412.9 619.0 L412.9 641.3 L392.8 641.6 Z" fill="url(#tabg)"/>
<path d="M414.3 619.0 L434.6 618.4 L434.6 640.9 L414.3 641.2 Z" fill="url(#tabg)"/>
<path d="M436.7 618.4 L456.4 617.7 L456.4 642.4 L436.7 642.9 Z" fill="url(#tabg)"/>
<path d="M457.9 617.6 L478.1 616.7 L478.1 639.4 L457.9 640.1 Z" fill="url(#tabg)"/>
<path d="M480.5 616.6 L495.1 615.9 L495.1 640.0 L480.5 640.5 Z" fill="url(#tabg)"/>
<path d="M134.0 512.1 L140.0 512.5 L146.0 512.9 L152.0 513.3 L158.0 513.7 L164.0 514.1 L170.0 514.4 L176.0 514.8 L182.0 515.1 L188.0 515.4 L194.0 515.7 L200.0 516.0 L206.0 516.3 L212.0 516.5 L218.0 516.8 L224.0 517.0 L230.0 517.3 L236.0 517.5 L242.0 517.7 L248.0 517.9 L254.0 518.0 L260.0 518.2 L266.0 518.3 L272.0 518.5 L278.0 518.6 L284.0 518.7 L290.0 518.8 L296.0 518.8 L302.0 518.9 L308.0 519.0 L314.0 519.0 L320.0 519.0 L326.0 519.0 L332.0 519.0 L338.0 519.0 L344.0 519.0 L350.0 518.9 L356.0 518.9 L362.0 518.8 L368.0 518.7 L374.0 518.6 L380.0 518.5 L386.0 518.4 L392.0 518.3 L398.0 518.1 L404.0 518.0 L410.0 517.8 L416.0 517.6 L422.0 517.4 L428.0 517.2 L434.0 517.0 L440.0 516.7 L446.0 516.5 L452.0 516.2 L458.0 515.9 L464.0 515.6 L470.0 515.3 L476.0 515.0 L482.0 514.6 L488.0 514.3 L492.0 514.1 L495.0 525.0 L498.5 545.0 L499.0 570.0 L498.5 600.0 L497.0 619.3 L491.0 619.6 L485.0 619.9 L479.0 620.2 L473.0 620.5 L467.0 620.7 L461.0 621.0 L455.0 621.2 L449.0 621.4 L443.0 621.7 L437.0 621.9 L431.0 622.0 L425.0 622.2 L419.0 622.4 L413.0 622.5 L407.0 622.7 L401.0 622.8 L395.0 622.9 L389.0 623.0 L383.0 623.1 L377.0 623.1 L371.0 623.2 L365.0 623.2 L359.0 623.2 L353.0 623.2 L347.0 623.2 L341.0 623.2 L335.0 623.2 L329.0 623.2 L323.0 623.1 L317.0 623.0 L311.0 623.0 L305.0 622.9 L299.0 622.8 L293.0 622.6 L287.0 622.5 L281.0 622.4 L275.0 622.2 L269.0 622.0 L263.0 621.8 L257.0 621.6 L251.0 621.4 L245.0 621.2 L239.0 620.9 L233.0 620.7 L227.0 620.4 L221.0 620.1 L215.0 619.8 L209.0 619.5 L203.0 619.2 L197.0 618.9 L191.0 618.5 L185.0 618.2 L179.0 617.8 L173.0 617.4 L167.0 617.0 L161.0 616.6 L155.0 616.2 L149.0 615.7 L143.0 615.3 L137.0 614.8 L131.0 614.3 L131.0 600.0 L132.5 560.0 L133.5 530.0 Z" fill="url(#redg)"/>
<path d="M151.9 557.3 L152.8 557.3 L153.6 616.5 L151.2 616.5 Z" fill="#B8160E"/>
<path d="M173.7 558.6 L174.5 558.6 L175.3 618.0 L172.9 618.0 Z" fill="#B8160E"/>
<path d="M195.4 559.8 L196.2 559.8 L197.1 619.3 L194.7 619.3 Z" fill="#B8160E"/>
<path d="M217.2 560.8 L218.0 560.8 L218.8 620.5 L216.4 620.5 Z" fill="#B8160E"/>
<path d="M238.9 561.6 L239.8 561.6 L240.6 621.5 L238.2 621.5 Z" fill="#B8160E"/>
<path d="M260.7 562.2 L261.5 562.2 L262.3 622.3 L259.9 622.3 Z" fill="#B8160E"/>
<path d="M282.4 562.7 L283.2 562.7 L284.1 622.9 L281.6 622.9 Z" fill="#B8160E"/>
<path d="M304.2 562.9 L305.0 562.9 L305.8 623.4 L303.4 623.4 Z" fill="#B8160E"/>
<path d="M325.9 563.0 L326.8 563.0 L327.6 623.6 L325.1 623.6 Z" fill="#B8160E"/>
<path d="M347.7 563.0 L348.5 563.0 L349.3 623.7 L346.9 623.7 Z" fill="#B8160E"/>
<path d="M369.4 562.7 L370.2 562.7 L371.1 623.7 L368.6 623.7 Z" fill="#B8160E"/>
<path d="M391.2 562.3 L392.0 562.3 L392.8 623.4 L390.4 623.4 Z" fill="#B8160E"/>
<path d="M412.9 561.7 L413.8 561.7 L414.6 623.0 L412.1 623.0 Z" fill="#B8160E"/>
<path d="M434.7 560.9 L435.5 560.9 L436.3 622.4 L433.9 622.4 Z" fill="#B8160E"/>
<path d="M456.4 560.0 L457.2 560.0 L458.1 621.7 L455.6 621.7 Z" fill="#B8160E"/>
<path d="M478.2 558.8 L479.0 558.8 L479.8 620.7 L477.4 620.7 Z" fill="#B8160E"/></g>


<!-- arrow -->
<path d="M575 313 C585 304 603 294 614 289 C618 288 619.5 293 617.5 297 C613 302 607 307 602.5 311 L670 311 C674 311 677 315 678 318.5 C660 320 620 321 602.5 321.5 C608 323.5 615 326 619.5 327 C622 329 622 334 620 335.5 C604 332 588 326 576 321 C573 319 573 315 575 313 Z" fill="#F36C1F"/>

<!-- dumpling bag -->
<g id="bag">
  <path d="M808.0 210.0 C818.5 207.8 839.7 207.7 855.0 208.0 C870.3 208.3 890.5 209.8 900.0 212.0 C909.5 214.2 907.0 218.3 912.0 221.0 C917.0 223.7 924.3 225.3 930.0 228.0 C935.7 230.7 941.0 233.5 946.0 237.0 C951.0 240.5 956.0 244.7 960.0 249.0 C964.0 253.3 967.2 257.8 970.0 263.0 C972.8 268.2 975.2 273.8 977.0 280.0 C978.8 286.2 979.9 293.0 980.5 300.0 C981.1 307.0 981.1 314.7 980.5 322.0 C979.9 329.3 979.4 337.0 977.0 344.0 C974.6 351.0 970.5 359.0 966.0 364.0 C961.5 369.0 956.0 371.5 950.0 374.0 C944.0 376.5 938.3 377.7 930.0 379.0 C921.7 380.3 910.0 381.2 900.0 382.0 C890.0 382.8 880.0 383.2 870.0 383.5 C860.0 383.8 850.8 383.8 840.0 383.5 C829.2 383.2 815.8 382.9 805.0 382.0 C794.2 381.1 783.8 379.8 775.0 378.0 C766.2 376.2 758.3 374.2 752.0 371.0 C745.7 367.8 740.8 363.8 737.0 359.0 C733.2 354.2 731.2 348.2 729.5 342.0 C727.8 335.8 727.3 329.0 727.0 322.0 C726.7 315.0 727.0 306.7 727.5 300.0 C728.0 293.3 728.4 287.7 730.0 282.0 C731.6 276.3 734.3 270.8 737.0 266.0 C739.7 261.2 742.2 257.0 746.0 253.0 C749.8 249.0 755.0 245.5 760.0 242.0 C765.0 238.5 770.7 235.5 776.0 232.0 C781.3 228.5 786.7 224.7 792.0 221.0 C797.3 217.3 797.5 212.2 808.0 210.0 Z" fill="#EDE5CB"/>
  <g clip-path="url(#bagclip)">
    <g filter="url(#blur8)">
      <ellipse cx="750" cy="315" rx="8" ry="55" fill="#DFD4B6" transform="rotate(-15 750 315)"/>
      <ellipse cx="970" cy="310" rx="10" ry="60" fill="#DDD2B4"/>
      <ellipse cx="860" cy="388" rx="120" ry="12" fill="#DCD0B0"/>
      <ellipse cx="775" cy="265" rx="8" ry="40" fill="#E2D8BC" transform="rotate(25 775 265)"/>
      <ellipse cx="940" cy="262" rx="8" ry="40" fill="#E2D8BC" transform="rotate(-25 940 262)"/>
      <ellipse cx="835" cy="250" rx="5" ry="30" fill="#E0D6B8" transform="rotate(-10 835 250)"/>
      <ellipse cx="885" cy="250" rx="5" ry="30" fill="#E0D6B8" transform="rotate(15 885 250)"/>
      <ellipse cx="860" cy="300" rx="70" ry="55" fill="#F2ECD8"/>
      <ellipse cx="733" cy="300" rx="5" ry="40" fill="#F0EAD4"/>
    </g>
  </g>
  <!-- ruffle -->
  <g>
    <path d="M780 212 C780 200 800 190 820 188 C845 184 880 184 900 190 C914 195 918 206 912 214 C890 222 830 225 795 222 C786 220 780 216 780 212 Z" fill="#D6CAAA"/>
    <ellipse cx="801" cy="204" rx="22" ry="15" fill="url(#rufg)"/>
    <ellipse cx="893" cy="200" rx="21" ry="14.5" fill="url(#rufg)"/>
    <ellipse cx="835" cy="195" rx="15" ry="13" fill="url(#rufg)"/>
    <ellipse cx="860" cy="192.5" rx="12" ry="11" fill="url(#rufg)"/>
    <g stroke="#CDBF9E" stroke-width="1.5" fill="none" opacity="0.9">
      <path d="M821 194 C823 200 822 207 819 213"/>
      <path d="M849 190 C850 196 849 202 847 207"/>
      <path d="M872 190 C873 196 872 202 870 207"/>
    </g>
    <path d="M796 219 C815 213 835 211 850 210 C870 210 890 212 908 215 C898 224 870 227 850 227 C830 227 810 225 796 219 Z" fill="#EEE7D2"/>
  </g>
  <!-- green cord -->
  <g fill="none" stroke="#52A232" stroke-width="5.5" stroke-linecap="round" stroke-linejoin="round">
    <path d="M857 164 C858 170 862 175 867 177 C875 180 888 181 898 180 C905 179 910 174 911 166 C912 158 909 150 904 148 C898 146 893 152 890 160 C887 168 886 174 890 180 C896 186 910 188 918 194 C923 199 922 206 917 210 C914 213 910 215 907 216"/>
    <path d="M867 168 C872 163 882 161 892 162 C900 163 905 166 907 171"/>
    <path d="M856 163 L862 170"/>
  </g>
  <!-- face -->
  <ellipse cx="815.8" cy="309" rx="11.2" ry="8" fill="#F2A6A6"/>
  <ellipse cx="894" cy="312" rx="8.6" ry="5" fill="#F09C98"/>
  <path d="M792 326 C798 320 802 318 806 319 C812 320 816 321 820 322 C826 324 830 326 834 328 C840 331 844 334 848 334.6 C853 335 858 334.5 862 334 C868 332 872 330 876 329 C882 326 886 324.5 890 323.4 C896 322 900 321 904 321.3 C909 322 912 324 912.4 326 C914 329 914.5 331 913.8 333 C913 337 912 340 909.6 341.6 C905 344 901 346 897 347 C890 349 883 351 876 352.8 C868 354.5 862 356 855 356.3 C848 356.5 841 356 834 355 C827 354 820 353 813 351.4 C808 349.5 803 347 799 344.4 C795 341.5 793 339 792.7 336 C792 332 791.5 329 792 326 Z" fill="#F2A2A8"/>
  <path d="M818.6 349 C826 347.5 832 347 838 348 C843 347 847 347.5 850 349 C855 347.5 862 347 871.8 348.5 C868 352.5 862 355.5 855 356.3 C846 356.8 836 356.2 828 354.5 C823 353 820 351 818.6 349 Z" fill="#E8504E"/>
  <rect x="846.6" y="338" width="9.5" height="5.5" rx="2" fill="#FAF8F4"/>
  <rect x="822.5" y="334" width="4.5" height="6" rx="1" fill="#E8B030" transform="rotate(20 824.7 337)"/>
  <rect x="803" y="344" width="8" height="4" rx="1" fill="#D8282C" transform="rotate(-15 807 346)"/>
  <rect x="889" y="343" width="7" height="3.5" rx="1" fill="#3C8A30" transform="rotate(20 892.5 345)"/>
  <path d="M834 359.5 C845 361 856 361 866 359.5" stroke="#6A2E28" stroke-width="1.6" fill="none"/>
  <path d="M789.5 326 C795 325 801 321 804.5 315" stroke="#5A2420" stroke-width="1.8" fill="none" stroke-linecap="round"/>
  <path d="M908.5 322 C912 326 916 330 921.5 332" stroke="#5A2420" stroke-width="1.8" fill="none" stroke-linecap="round"/>
  <path d="M876 312 C878 315 880 317 882 319" stroke="#7A2E22" stroke-width="1.8" fill="none"/>
  <ellipse cx="841.7" cy="305.5" rx="10.8" ry="12.7" fill="#FFFFFF" stroke="#7A2E22" stroke-width="2.2"/>
  <ellipse cx="867" cy="306" rx="10.8" ry="12.3" fill="#FFFFFF" stroke="#7A2E22" stroke-width="2.2"/>
  <ellipse cx="846.5" cy="300.5" rx="5.4" ry="7.4" fill="#150E0E"/>
  <ellipse cx="871" cy="301" rx="5" ry="7" fill="#150E0E"/>
  <ellipse cx="850" cy="321" rx="5" ry="2.8" fill="#150E0E"/>
  <path d="M827 294.7 C830 291 833 288 836.8 286.3" stroke="#5A2420" stroke-width="1.8" fill="none" stroke-linecap="round"/>
  <path d="M867.6 287 C872 287 877 289.5 880 293.3" stroke="#5A2420" stroke-width="1.8" fill="none" stroke-linecap="round"/>
</g>

<!-- kimchi -->
<g id="kimchi">
  <path d="M779.0 474.4 C779.5 471.4 779.3 468.1 780.8 465.4 C782.3 462.7 784.7 460.1 788.0 458.2 C791.3 456.2 796.7 454.9 800.6 453.7 C804.5 452.5 808.4 452.9 811.4 451.0 C814.4 449.1 816.2 445.3 818.6 442.0 C821.0 438.7 823.1 433.9 825.8 431.2 C828.5 428.5 831.5 426.7 834.8 425.8 C838.1 424.9 842.3 425.1 845.6 425.8 C848.9 426.6 851.6 429.9 854.6 430.3 C857.6 430.8 860.3 429.4 863.6 428.5 C866.9 427.6 870.8 425.0 874.4 424.9 C878.0 424.8 881.6 426.0 885.2 427.6 C888.8 429.2 892.4 433.0 896.0 434.8 C899.6 436.6 902.9 437.6 906.8 438.4 C910.7 439.1 916.1 438.1 919.4 439.3 C922.7 440.5 925.1 443.1 926.6 445.6 C928.1 448.2 928.1 451.9 928.4 454.6 C928.7 457.3 926.9 459.7 928.4 461.8 C929.9 463.9 934.8 465.1 937.4 467.2 C940.0 469.3 942.7 471.7 943.7 474.4 C944.8 477.1 944.8 480.4 943.7 483.4 C942.7 486.4 939.4 489.4 937.4 492.4 C935.4 495.4 933.2 498.1 932.0 501.4 C930.8 504.7 930.8 508.3 930.2 512.2 C929.6 516.1 929.9 521.8 928.4 524.8 C926.9 527.8 924.8 529.3 921.2 530.2 C917.6 531.1 911.0 529.9 906.8 530.2 C902.6 530.5 899.6 531.4 896.0 532.0 C892.4 532.6 888.2 532.9 885.2 533.8 C882.2 534.7 881.6 536.2 878.0 537.4 C874.4 538.6 868.1 540.7 863.6 541.0 C859.1 541.3 855.2 540.4 851.0 539.2 C846.8 538.0 842.0 536.2 838.4 533.8 C834.8 531.4 831.8 527.8 829.4 524.8 C827.0 521.8 826.4 517.9 824.0 515.8 C821.6 513.7 819.5 513.4 815.0 512.2 C810.5 511.0 801.8 510.4 797.0 508.6 C792.2 506.8 788.9 504.1 786.2 501.4 C783.5 498.7 782.1 495.4 780.8 492.4 C779.4 489.4 778.4 486.4 778.1 483.4 C777.8 480.4 778.5 477.4 779.0 474.4 Z" fill="#E61510"/>
  <g clip-path="url(#kimclip)"><g filter="url(#blur8)" opacity="0.7">
    <ellipse cx="860" cy="545" rx="80" ry="10" fill="#C4120A"/>
    <ellipse cx="940" cy="490" rx="8" ry="40" fill="#C8140A"/>
    <ellipse cx="780" cy="485" rx="6" ry="30" fill="#CC160C"/>
  </g></g>
  <path d="M833 457 C834 452 840 452 844 455 C848 451 856 452 858 456 C862 455 866 459 864 462 C868 465 864 470 860 471 C862 476 856 480 850 479 C846 482 840 480 838 477 C836 481 833 482 832 479 C831 476 834 474 836 473 C832 472 830 468 833 466 C830 463 831 459 833 457 Z" fill="#E9E6EE"/>
  <path d="M869 463 C869 459 874 457 878 460 C882 457 888 459 888 463 C892 462 895 466 893 470 C896 473 895 478 891 477 C890 481 885 482 882 479 C878 482 873 480 873 476 C869 475 868 471 871 469 C868 467 868 465 869 463 Z" fill="#E9E6EE"/>
  <circle cx="854.5" cy="466" r="4" fill="#6B3A24"/>
  <circle cx="875" cy="467.5" r="3.5" fill="#6B3A24"/>
  <ellipse cx="864" cy="476" rx="3.2" ry="2" fill="#9A2A18"/>
  <path d="M832 488 C834 484 842 482 850 483 C857 484 862 487 865 489 C872 488 882 486 892 488 C898 489 902 494 901 498 C899 503 890 505 878 505 C865 505 850 504 841 500 C835 497 831 493 832 488 Z" fill="#7A3C28"/>
  <rect x="814" y="481" width="4.5" height="12" fill="#EEC890" transform="rotate(-35 816 487)"/>
  <rect x="842" y="443" width="10" height="3" fill="#6A9A6A" transform="rotate(-15 847 444)"/>
  <rect x="906" y="463" width="3" height="7" fill="#8A3A28" transform="rotate(-40 907 466)"/>
</g>

<!-- leek -->
<g id="leek">
  <path d="M784.2 636.0 C784.6 631.2 785.4 627.1 787.1 622.7 C788.8 618.3 791.2 614.3 794.7 609.4 C798.2 604.5 802.6 597.7 808.0 593.2 C813.4 588.8 819.7 585.6 827.0 582.8 C834.3 580.0 843.8 577.7 851.7 576.7 C859.6 575.8 867.5 576.2 874.5 577.1 C881.5 578.0 887.5 580.0 893.5 581.9 C899.5 583.8 905.5 585.8 910.6 588.5 C915.7 591.2 920.1 594.5 923.9 598.0 C927.7 601.5 930.5 605.6 933.4 609.4 C936.2 613.2 939.1 617.0 941.0 620.8 C942.9 624.6 944.3 628.4 944.8 632.2 C945.3 636.0 944.6 639.2 943.9 643.6 C943.1 648.0 941.8 654.0 940.0 658.8 C938.3 663.5 936.4 668.3 933.4 672.1 C930.4 675.9 926.4 679.1 922.0 681.6 C917.6 684.1 912.5 685.7 906.8 687.3 C901.1 688.9 894.8 690.5 887.8 691.1 C880.8 691.7 872.6 691.4 865.0 691.1 C857.4 690.8 849.5 690.3 842.2 689.2 C834.9 688.1 827.6 686.7 821.3 684.5 C815.0 682.2 809.3 679.2 804.2 675.9 C799.1 672.6 794.1 668.6 790.9 664.5 C787.7 660.4 786.3 656.0 785.2 651.2 C784.1 646.5 783.9 640.8 784.2 636.0 Z" fill="#6AA75E"/>
  <g clip-path="url(#leekclip)"><g filter="url(#blur8)">
    <ellipse cx="940" cy="640" rx="10" ry="45" fill="#52904A" opacity="0.8"/>
    <ellipse cx="860" cy="695" rx="80" ry="9" fill="#58964E" opacity="0.8"/>
    <ellipse cx="830" cy="610" rx="30" ry="22" fill="#80B876" opacity="0.6"/>
    <ellipse cx="805" cy="630" rx="12" ry="28" fill="#7EB674" opacity="0.5"/>
    <ellipse cx="880" cy="590" rx="30" ry="10" fill="#7CB472" opacity="0.5"/>
  </g></g>
  <ellipse cx="852.5" cy="616" rx="10.5" ry="11.5" fill="#ECEEF0"/>
  <ellipse cx="885" cy="620" rx="8.5" ry="9" fill="#ECEEF0"/>
  <circle cx="857" cy="620.5" r="3.3" fill="#3A1A14"/>
  <circle cx="882" cy="617" r="3.1" fill="#3A1A14"/>
  <ellipse cx="868.5" cy="624.5" rx="3" ry="2.2" fill="#7A3A20"/>
  <path d="M843 647 C843 640 850 633 864 631 C877 630 887 635 890 643 C891 648 887 649 882 647 C872 644 858 644 849 648 C846 649 843 649 843 647 Z" fill="#4A1616"/>
  <path d="M884 649 L883.5 659 C885 660.5 888 659.5 888 657 L887 649 Z" fill="#F0F0EC"/>
  <rect x="833" y="600" width="8" height="3.2" rx="1" fill="#3BA08A" transform="rotate(-20 837 601)"/>
  <rect x="909" y="633" width="8" height="3.5" rx="1" fill="#E03A2A" transform="rotate(40 913 634)"/>
  <rect x="822" y="647" width="3.5" height="9" rx="1" fill="#E8C048" transform="rotate(-25 824 651)"/>
</g>

<!-- shrimp -->
<g id="shrimp">
  <path d="M785.0 805.0 C785.2 801.3 785.5 796.0 788.0 793.0 C790.5 790.0 794.7 788.5 800.0 787.0 C805.3 785.5 813.3 784.8 820.0 784.0 C826.7 783.2 833.7 783.2 840.0 782.0 C846.3 780.8 852.3 778.8 858.0 777.0 C863.7 775.2 868.7 773.3 874.0 771.0 C879.3 768.7 885.3 765.7 890.0 763.0 C894.7 760.3 898.3 757.5 902.0 755.0 C905.7 752.5 908.7 749.8 912.0 748.0 C915.3 746.2 919.0 743.5 922.0 744.0 C925.0 744.5 928.7 747.8 930.0 751.0 C931.3 754.2 931.0 759.0 930.0 763.0 C929.0 767.0 926.7 771.3 924.0 775.0 C921.3 778.7 918.0 781.7 914.0 785.0 C910.0 788.3 905.3 791.7 900.0 795.0 C894.7 798.3 888.7 801.8 882.0 805.0 C875.3 808.2 867.7 811.3 860.0 814.0 C852.3 816.7 843.7 819.2 836.0 821.0 C828.3 822.8 820.7 824.7 814.0 825.0 C807.3 825.3 800.5 824.7 796.0 823.0 C791.5 821.3 788.8 818.0 787.0 815.0 C785.2 812.0 784.8 808.7 785.0 805.0 Z" fill="#F3CCD8"/>
  <g clip-path="url(#shrimpclip)"><g filter="url(#blur8)" opacity="0.6">
    <ellipse cx="840" cy="828" rx="60" ry="8" fill="#E8B4C4"/>
  </g></g>
  <path d="M918.0 742.0 C917.3 739.3 922.0 737.8 924.0 735.0 C926.0 732.2 928.3 727.5 930.0 725.0 C931.7 722.5 932.5 720.7 934.0 720.0 C935.5 719.3 938.2 719.5 939.0 721.0 C939.8 722.5 939.5 726.3 939.0 729.0 C938.5 731.7 935.2 736.0 936.0 737.0 C936.8 738.0 941.3 735.3 944.0 735.0 C946.7 734.7 950.2 734.3 952.0 735.0 C953.8 735.7 955.3 737.7 955.0 739.0 C954.7 740.3 952.2 741.7 950.0 743.0 C947.8 744.3 944.7 745.5 942.0 747.0 C939.3 748.5 936.3 751.3 934.0 752.0 C931.7 752.7 930.7 752.7 928.0 751.0 C925.3 749.3 918.7 744.7 918.0 742.0 Z" fill="#F06B85"/>
  <g id="stripes" fill="none" stroke="#EA6A84" stroke-width="1.6" stroke-linecap="round"><path d="M836.0 786.0 Q839.3 791.1 834.0 794.0 Q837.3 799.1 832.0 802.0 Q835.3 807.1 830.0 810.0 Q833.3 815.1 828.0 818.0"/>
<path d="M855.0 782.0 Q858.7 786.9 853.8 790.5 Q857.5 795.4 852.5 799.0 Q856.2 803.9 851.2 807.5 Q855.0 812.4 850.0 816.0"/>
<path d="M874.0 776.0 Q878.0 780.4 873.2 784.0 Q877.3 788.4 872.5 792.0 Q876.5 796.4 871.8 800.0 Q875.8 804.4 871.0 808.0"/>
<path d="M889.0 768.0 Q893.5 771.6 889.2 775.5 Q893.8 779.1 889.5 783.0 Q894.0 786.6 889.8 790.5 Q894.3 794.1 890.0 798.0"/>
<path d="M902.0 759.0 Q906.9 763.4 903.0 768.7 Q907.9 773.0 904.0 778.3 Q908.9 782.7 905.0 788.0"/>
<path d="M913.0 751.0 Q918.2 754.5 914.7 759.7 Q919.8 763.2 916.3 768.3 Q921.5 771.8 918.0 777.0"/>
<path d="M921.0 747.0 Q926.3 751.1 923.0 757.0 Q928.3 761.1 925.0 767.0"/></g>
  <path d="M796 804 L804 811 M803 803 L797 812" stroke="#EA6A84" stroke-width="1.5" fill="none" stroke-linecap="round"/>
</g>
</svg>

<div class="lbl" style="left:577px;top:252px;font-size:19px;">dumpling skin</div>
<div class="lbl" style="left:638px;top:469px;font-size:19px;">Kimchi x1</div>
<div class="lbl" style="left:652px;top:618px;font-size:19px;">Leek x1</div>
<div class="lbl" style="left:646px;top:769px;font-size:19px;">Shrimp x1</div>
</body></html>
